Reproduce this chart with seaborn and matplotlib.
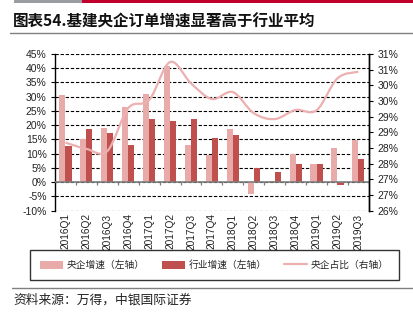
import math
import numpy as np
import pandas as pd
import matplotlib
matplotlib.use("Agg")
import matplotlib.pyplot as plt
import seaborn as sns
from matplotlib.path import Path
from matplotlib.patches import PathPatch, Rectangle, Patch
from matplotlib.lines import Line2D
from matplotlib.ticker import FuncFormatter, MultipleLocator

# ---- data -------------------------------------------------------------
quarters = ["2016Q1", "2016Q2", "2016Q3", "2016Q4", "2017Q1", "2017Q2",
            "2017Q3", "2017Q4", "2018Q1", "2018Q2", "2018Q3", "2018Q4",
            "2019Q1", "2019Q2", "2019Q3"]
soe_growth = [30.6, 15.1, 19.1, 26.4, 30.8, 40.8, 12.9, 9.5, 18.5, -4.3,
              0.3, 10.0, 6.2, 12.1, 14.9]          # 央企增速 (%)
industry_growth = [12.8, 18.8, 17.3, 12.9, 22.2, 21.6, 22.2, 15.5, 16.4, 5.1,
                   3.4, 6.5, 6.5, -0.9, 8.2]       # 行业增速 (%)
soe_share = [28.17, 27.97, 27.90, 29.27, 29.53, 30.74, 30.06, 29.56, 29.78,
             29.11, 28.92, 29.21, 29.20, 30.22, 30.43]  # 央企占比 (%)

name_soe = "央企增速（左轴）"
name_ind = "行业增速（左轴）"
name_share = "央企占比（右轴）"

c_light = "#E9AAAA"
c_dark = "#C0504D"
c_line = "#EDB0B0"

cjk = ["Noto Sans CJK SC", "DejaVu Sans"]
latin = ["Liberation Sans", "DejaVu Sans"]

sns.set_theme(style="white")
plt.rcParams["font.family"] = latin
plt.rcParams["axes.unicode_minus"] = False

df = pd.DataFrame({
    "quarter": quarters * 2,
    "value": soe_growth + industry_growth,
    "series": [name_soe] * len(quarters) + [name_ind] * len(quarters),
})

fig = plt.figure(figsize=(4.14, 3.23), dpi=100)
ax = fig.add_axes([0.1329, 0.3477, 0.758, 0.4856])

sns.barplot(data=df, x="quarter", y="value", hue="series", order=quarters,
            hue_order=[name_soe, name_ind], palette=[c_light, c_dark],
            width=0.58, saturation=1, errorbar=None, legend=False, ax=ax,
            linewidth=0)

ax.set_ylim(-10, 45)
ax.set_xlim(-0.5, len(quarters) - 0.5)
ax.yaxis.set_major_locator(MultipleLocator(5))
ax.yaxis.set_major_formatter(FuncFormatter(lambda v, p: f"{v:.0f}%"))
ax.grid(axis="y", color="black", linestyle=(0, (3, 1.6)), linewidth=0.8)
ax.set_axisbelow(True)
ax.set_xlabel("")
ax.set_ylabel("")
for s in ("top", "bottom"):
    ax.spines[s].set_visible(False)
for s in ("left", "right"):
    ax.spines[s].set_color("black")
    ax.spines[s].set_linewidth(1.0)
ax.tick_params(axis="y", left=True, direction="out", length=3, width=0.8,
               color="black", labelsize=7.5, pad=3, labelcolor="#222222")
ax.tick_params(axis="x", bottom=False, length=0, labelsize=7.3, pad=2,
               labelcolor="#222222", labelrotation=90)

# zero line with category separator marks
ax.axhline(0, color="#7f7f7f", linewidth=1.2, zorder=3)
ax.vlines(np.arange(len(quarters)) + 0.5, -1.1, 0, color="#7f7f7f",
          linewidth=0.9, zorder=3)

# ---- share on the secondary axis, drawn as a smoothed curve ------------
ax2 = ax.twinx()
ax2.set_ylim(26, 31)
ax2.yaxis.set_major_locator(MultipleLocator(0.5))
ax2.yaxis.set_major_formatter(
    FuncFormatter(lambda v, p: f"{math.floor(v + 0.5 + 1e-9):d}%"))
ax2.grid(False)
for s in ("top", "bottom", "left"):
    ax2.spines[s].set_visible(False)
ax2.spines["right"].set_color("black")
ax2.spines["right"].set_linewidth(1.0)
ax2.tick_params(axis="y", right=True, direction="out", length=3, width=0.8,
                color="black", labelsize=7.5, pad=3, labelcolor="#222222")

xs = np.arange(len(quarters), dtype=float)
ys = np.array(soe_share, dtype=float)
pts = np.column_stack([xs, ys])
ext = np.vstack([pts[0], pts, pts[-1]])
verts = [tuple(pts[0])]
codes = [Path.MOVETO]
for i in range(len(pts) - 1):
    p0, p1, p2, p3 = ext[i], ext[i + 1], ext[i + 2], ext[i + 3]
    c1 = p1 + (p2 - p0) / 6.0
    c2 = p2 - (p3 - p1) / 6.0
    verts += [tuple(c1), tuple(c2), tuple(p2)]
    codes += [Path.CURVE4] * 3
ax2.add_patch(PathPatch(Path(verts, codes), facecolor="none",
                        edgecolor=c_line, linewidth=1.6, zorder=4))

# ---- legend -------------------------------------------------------------
handles = [Patch(facecolor=c_light, edgecolor="none"),
           Patch(facecolor=c_dark, edgecolor="none"),
           Line2D([], [], color=c_line, linewidth=1.6)]
leg = fig.legend(handles, [name_soe, name_ind, name_share], ncol=3,
                 loc="center", bbox_to_anchor=(0.518, 0.1796),
                 prop={"family": cjk, "size": 7}, frameon=True,
                 fancybox=False, edgecolor="black", handlelength=2.35,
                 handleheight=0.9, columnspacing=1.75, borderpad=1.05,
                 handletextpad=0.4, borderaxespad=0)
leg.get_frame().set_linewidth(1.0)

# ---- header and footer --------------------------------------------------
fig.add_artist(Rectangle((14 / 414, 1 - 3 / 323), 68 / 414, 3 / 323,
                         transform=fig.transFigure, color="#9A9EA3", lw=0))
fig.add_artist(Rectangle((82 / 414, 1 - 3 / 323), 332 / 414, 3 / 323,
                         transform=fig.transFigure, color="#C0002A", lw=0))
fig.text(13 / 414, 1 - 22 / 323, "图表54.基建央企订单增速显著高于行业平均",
         family=cjk, fontsize=11.2, fontweight="bold", va="center",
         ha="left", color="#111111")
fig.add_artist(Line2D([10 / 414, 1], [1 - 33 / 323] * 2,
                      transform=fig.transFigure, color="#808080", lw=1.0))
fig.add_artist(Line2D([12 / 414, 1], [1 - 288 / 323] * 2,
                      transform=fig.transFigure, color="#808080", lw=1.0))
fig.text(13 / 414, 1 - 300 / 323, "资料来源：万得，中银国际证券",
         family=cjk, fontsize=9.2, style="italic", va="center", ha="left",
         color="#222222")

fig.savefig("out.png", dpi=100)
